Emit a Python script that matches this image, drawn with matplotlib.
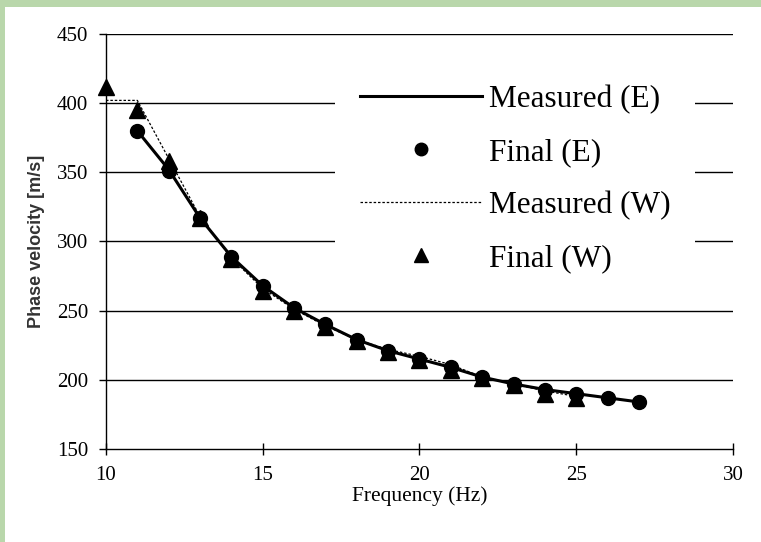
import matplotlib
matplotlib.use("Agg")
import matplotlib.pyplot as plt
from matplotlib.patches import Rectangle

# Frequencies (Hz) and phase velocities (m/s)
freq_e = [11, 12, 13, 14, 15, 16, 17, 18, 19, 20, 21, 22, 23, 24, 25, 26, 27]
meas_e = [380, 352, 317, 289, 268, 252, 240, 229, 221, 215, 209, 202, 197, 193, 190, 187, 184]
final_e = [380, 351, 317, 289, 268, 252, 240, 229, 221, 215, 209, 202, 197, 193, 190, 187, 184]

freq_w = [10, 11, 12, 13, 14, 15, 16, 17, 18, 19, 20, 21, 22, 23, 24, 25]
meas_w = [402, 402, 360, 318, 288, 266, 251, 239, 229, 222, 217, 211, 202, 197, 192, 188]
final_w = [412, 395, 358, 317, 287, 264, 250, 238, 228, 220, 214, 207, 201, 196, 190, 187]

x_ticks = [10, 15, 20, 25, 30]
y_ticks = [150, 200, 250, 300, 350, 400, 450]

serif = "Liberation Serif"
border = "#b9d7ab"

fig = plt.figure(figsize=(7.61, 5.42), dpi=100)
fig.patch.set_facecolor("white")
# green page edge along the left and top
fig.add_artist(Rectangle((0, 0), 5 / 761, 1, transform=fig.transFigure,
                         facecolor=border, edgecolor="none"))
fig.add_artist(Rectangle((0, 1 - 7 / 542), 1, 7 / 542, transform=fig.transFigure,
                         facecolor=border, edgecolor="none"))

ax = fig.add_axes([106 / 761, 1 - 449 / 542, (733 - 106) / 761, (449 - 34) / 542])
ax.set_facecolor("white")

for yv in y_ticks[1:]:
    ax.axhline(yv, color="black", lw=1.0, zorder=1)

ax.plot(freq_e, meas_e, color="black", lw=2.2, zorder=3, label="Measured (E)",
        clip_on=False)
ax.plot(freq_e, final_e, linestyle="none", marker="o", ms=10, color="black",
        zorder=4, label="Final (E)", clip_on=False)
ax.plot(freq_w, meas_w, color="black", lw=0.9, linestyle=(0, (2, 1.5)), zorder=3,
        label="Measured (W)", clip_on=False)
ax.plot(freq_w, final_w, linestyle="none", marker="^", ms=11, color="black",
        zorder=4, label="Final (W)", clip_on=False)

ax.set_xlim(10, 30)
ax.set_ylim(150, 450)
ax.set_xticks(x_ticks)
ax.set_yticks(y_ticks)
ax.tick_params(axis="x", direction="inout", length=8, width=1, pad=8, labelsize=15)
ax.tick_params(axis="y", direction="out", length=5, width=1, pad=8, labelsize=15)
for lab in ax.get_xticklabels() + ax.get_yticklabels():
    lab.set_fontfamily(serif)

for side in ("top", "right"):
    ax.spines[side].set_visible(False)
for side in ("left", "bottom"):
    ax.spines[side].set_linewidth(1.0)

ax.set_xlabel("Frequency (Hz)", fontfamily=serif, fontsize=15.5, labelpad=1)
ax.set_ylabel("Phase velocity [m/s]", fontfamily="Liberation Sans", fontweight="bold",
              fontsize=13, labelpad=8, color="#333333")

leg = ax.legend(loc="upper left", bbox_to_anchor=(0.341, 0.975), frameon=True,
                fancybox=False, framealpha=1.0, facecolor="white", edgecolor="none",
                handlelength=3.9, handletextpad=0.2, labelspacing=0.76,
                prop={"family": serif, "size": 22.5}, borderpad=0.8, markerscale=0.9)
leg.set_zorder(5)

fig.savefig("out.png", dpi=100)
